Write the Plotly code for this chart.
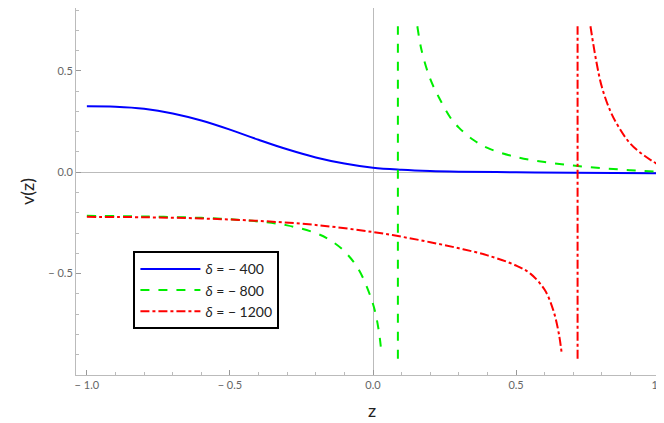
import plotly.graph_objects as go

z_blue = [-1.0, -0.9, -0.8, -0.7, -0.6, -0.5, -0.4, -0.3, -0.2, -0.1, 0.0, 0.1, 0.2, 0.3, 0.5, 0.7, 1.0]
v_blue = [0.325, 0.323, 0.313, 0.29, 0.255, 0.21, 0.16, 0.113, 0.073, 0.043, 0.022, 0.012, 0.006, 0.003, 0.0, -0.003, -0.005]

z_green_l = [-1.0, -0.8, -0.6, -0.5, -0.4, -0.3, -0.2, -0.15, -0.1, -0.05, 0.0, 0.02, 0.03]
v_green_l = [-0.215, -0.218, -0.225, -0.232, -0.243, -0.262, -0.3, -0.335, -0.39, -0.48, -0.65, -0.78, -0.9]
z_green_r = [0.155, 0.17, 0.2, 0.23, 0.27, 0.3, 0.35, 0.4, 0.5, 0.6, 0.7, 0.8, 0.9, 1.0]
v_green_r = [0.72, 0.6, 0.46, 0.37, 0.27, 0.22, 0.16, 0.12, 0.075, 0.05, 0.033, 0.02, 0.01, 0.002]
green_asym = 0.087

z_red_l = [-1.0, -0.8, -0.6, -0.4, -0.2, 0.0, 0.1, 0.2, 0.3, 0.4, 0.5, 0.55, 0.6, 0.63, 0.65, 0.66]
v_red_l = [-0.22, -0.222, -0.228, -0.24, -0.26, -0.295, -0.318, -0.345, -0.375, -0.41, -0.46, -0.5, -0.58, -0.68, -0.8, -0.9]
z_red_r = [0.76, 0.78, 0.8, 0.83, 0.86, 0.9, 0.95, 1.0]
v_red_r = [0.72, 0.55, 0.42, 0.3, 0.22, 0.14, 0.08, 0.035]
red_asym = 0.715

labels = ["<i>δ</i> = − 400", "<i>δ</i> = − 800", "<i>δ</i> = − 1200"]

fig = go.Figure()
fig.add_trace(go.Scatter(x=z_blue, y=v_blue, mode="lines", line=dict(color="#0000ff", width=2, shape="spline"), name=labels[0]))
fig.add_trace(go.Scatter(x=z_green_l + [None] + z_green_r, y=v_green_l + [None] + v_green_r, mode="lines",
                         line=dict(color="#00ee00", width=2, dash="dash", shape="spline"), name=labels[1]))
fig.add_trace(go.Scatter(x=[green_asym, green_asym], y=[-0.92, 0.72], mode="lines",
                         line=dict(color="#00ee00", width=2, dash="dash"), showlegend=False))
fig.add_trace(go.Scatter(x=z_red_l + [None] + z_red_r, y=v_red_l + [None] + v_red_r, mode="lines",
                         line=dict(color="#ff0000", width=2, dash="dashdot", shape="spline"), name=labels[2]))
fig.add_trace(go.Scatter(x=[red_asym, red_asym], y=[-0.92, 0.72], mode="lines",
                         line=dict(color="#ff0000", width=2, dash="dashdot"), showlegend=False))

axis_common = dict(showgrid=False, zeroline=True, zerolinecolor="#bbbbbb", zerolinewidth=1, automargin=False,
                   showline=True, linecolor="#bbbbbb", mirror=True, ticks="inside", ticklen=5,
                   tickcolor="#999999", tickfont=dict(color="#666666", size=11, family="Lato"),
                   minor=dict(ticks="inside", ticklen=3, tickcolor="#bbbbbb"))
fig.update_xaxes(range=[-1.038, 1.031], tickvals=[-1, -0.5, 0, 0.5, 1],
                 ticktext=["− 1.0", "− 0.5", "0.0", "0.5", "1.0"],
                 minor_dtick=0.1, title=dict(text="z", font=dict(size=18, family="Lato", color="#222"), standoff=14), **axis_common)
fig.update_yaxes(range=[-1.0, 0.81], tickvals=[-0.5, 0, 0.5], ticktext=["− 0.5", "0.0", "0.5"],
                 minor_dtick=0.1, title=dict(text="v(z)", font=dict(size=18, family="Lato", color="#222"), standoff=8), **axis_common)
fig.update_layout(width=664, height=423, margin=dict(l=68, r=4, t=0, b=56),
                  plot_bgcolor="white", paper_bgcolor="white",
                  legend=dict(x=0.097, y=0.337, xanchor="left", yanchor="top", bordercolor="black", borderwidth=2,
                              bgcolor="white", font=dict(size=14, family="Lato", color="#222"),
                              tracegroupgap=10, itemwidth=60))
fig.write_html("out.html")
